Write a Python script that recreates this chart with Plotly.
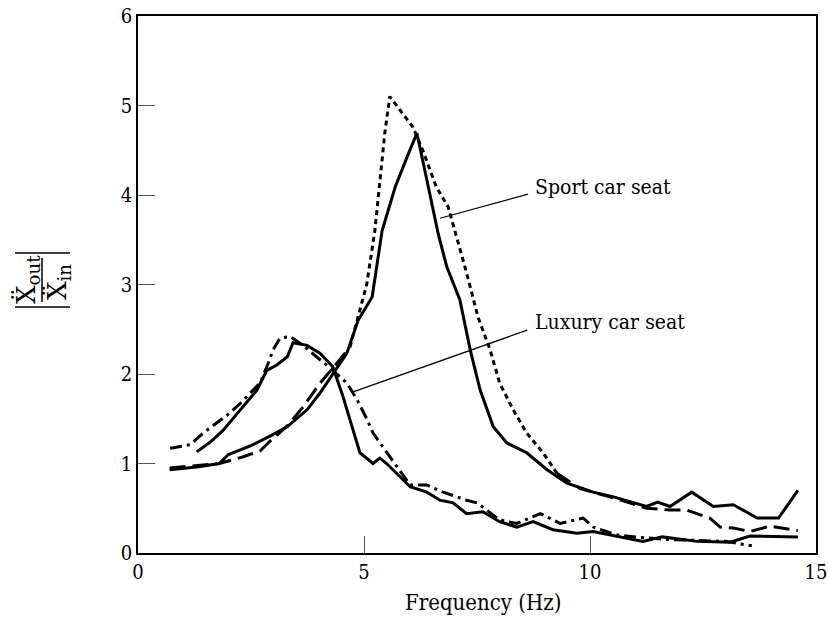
import plotly.graph_objects as go

# Transmissibility |X''out / X''in| of two car seats versus excitation frequency

# Sport car seat, measurement A (solid)
sport_a_freq = [0.7, 1.3, 1.8, 2.0, 2.5, 2.9, 3.3, 3.74, 4.03, 4.31, 4.62, 4.87, 5.18, 5.4,
                5.69, 5.95, 6.17, 6.39, 6.64, 6.83, 7.12, 7.35, 7.57, 7.86, 8.16, 8.6, 9.05,
                9.49, 10.07, 10.5, 11.25, 11.5, 11.77, 12.25, 12.73, 13.17, 13.7, 14.17, 14.6]
sport_a_gain = [0.93, 0.96, 1.0, 1.1, 1.2, 1.3, 1.41, 1.6, 1.79, 2.0, 2.23, 2.6, 2.86, 3.6,
                4.09, 4.42, 4.69, 4.17, 3.57, 3.2, 2.83, 2.27, 1.82, 1.41, 1.23, 1.12, 0.93,
                0.78, 0.68, 0.63, 0.52, 0.57, 0.52, 0.68, 0.52, 0.54, 0.39, 0.39, 0.7]

# Sport car seat, measurement B (dashed, dotted around the resonance)
sport_b_freq = [0.7, 1.2, 1.8, 2.3, 2.7, 2.9, 3.3, 3.65, 4.03, 4.4, 4.69, 4.85, 5.06, 5.24,
                5.35, 5.46, 5.57, 5.8, 6.08, 6.3, 6.6, 6.86, 7.05, 7.27, 7.52, 7.79, 8.0,
                8.3, 8.6, 8.96, 9.27, 9.78, 10.5, 11.25, 11.77, 12.14, 12.65, 12.88, 13.17,
                13.54, 13.98, 14.6]
sport_b_gain = [0.95, 0.97, 1.0, 1.07, 1.14, 1.24, 1.42, 1.63, 1.9, 2.12, 2.3, 2.6, 3.0, 3.6,
                4.17, 4.69, 5.1, 4.95, 4.76, 4.5, 4.09, 3.87, 3.53, 3.13, 2.64, 2.27, 1.9,
                1.6, 1.34, 1.12, 0.89, 0.72, 0.62, 0.5, 0.48, 0.48, 0.39, 0.29, 0.28,
                0.24, 0.3, 0.25]

# Luxury car seat, measurement A (solid)
luxury_a_freq = [1.3, 1.6, 1.88, 2.26, 2.63, 2.85, 3.07, 3.3, 3.43, 3.74, 4.03, 4.31, 4.54,
                 4.76, 4.91, 5.2, 5.35, 5.5, 6.02, 6.39, 6.68, 6.97, 7.27, 7.63, 8.0, 8.38,
                 8.74, 9.18, 9.71, 10.07, 10.5, 11.17, 11.6, 12.37, 13.1, 13.54, 14.6]
luxury_a_gain = [1.13, 1.24, 1.37, 1.6, 1.82, 2.04, 2.1, 2.19, 2.35, 2.32, 2.23, 2.08, 1.74,
                 1.37, 1.12, 1.0, 1.06, 1.0, 0.74, 0.68, 0.59, 0.56, 0.44, 0.46, 0.35, 0.29,
                 0.35, 0.26, 0.22, 0.24, 0.2, 0.13, 0.18, 0.13, 0.12, 0.19, 0.18]

# Luxury car seat, measurement B (dash-dot)
luxury_b_freq = [0.71, 1.15, 1.44, 1.97, 2.26, 2.7, 2.88, 2.99, 3.14, 3.36, 3.65, 3.96, 4.31,
                 4.62, 4.85, 5.07, 5.2, 5.58, 6.02, 6.39, 6.75, 7.27, 7.5, 8.0, 8.38, 8.9,
                 9.34, 9.85, 10.07, 10.6, 11.2, 11.8, 12.4, 13.0, 13.58]
luxury_b_gain = [1.17, 1.21, 1.34, 1.54, 1.67, 1.9, 2.12, 2.27, 2.4, 2.42, 2.32, 2.19, 2.04,
                 1.9, 1.71, 1.49, 1.34, 1.07, 0.76, 0.76, 0.68, 0.59, 0.56, 0.37, 0.33, 0.44,
                 0.33, 0.39, 0.29, 0.2, 0.17, 0.15, 0.14, 0.13, 0.08]

x_ticks = [0, 5, 10, 15]
y_ticks = [0, 1, 2, 3, 4, 5, 6]

FONT = "DejaVu Serif Condensed"
W, H = 828, 619
M_L, M_R, M_T, M_B = 138, 12, 16, 66
PW, PH = W - M_L - M_R, H - M_T - M_B


def px(x):
    return (x - M_L) / PW


def py(y):
    return (H - M_B - y) / PH


def segment(xs, ys, lo, hi):
    pts = [(a, b) for a, b in zip(xs, ys) if lo <= a <= hi]
    return [p[0] for p in pts], [p[1] for p in pts]


fig = go.Figure()

line_w = 3


def add(xs, ys, dash):
    fig.add_trace(go.Scatter(x=xs, y=ys, mode="lines", showlegend=False, hoverinfo="skip",
                             cliponaxis=False,
                             line=dict(color="black", width=line_w, dash=dash,
                                       shape="linear")))


add(sport_a_freq, sport_a_gain, "solid")
sx, sy = segment(sport_b_freq, sport_b_gain, 0, 4.69)
add(sx, sy, "16px,7px")
sx, sy = segment(sport_b_freq, sport_b_gain, 4.69, 9.27)
add(sx, sy, "5px,4px")
sx, sy = segment(sport_b_freq, sport_b_gain, 9.27, 15)
add(sx, sy, "16px,7px")
add(luxury_a_freq, luxury_a_gain, "solid")
add(luxury_b_freq, luxury_b_gain, "12px,5px,3px,5px")

shapes = []
annotations = []

# Leader lines for the seat labels
shapes.append(dict(type="line", xref="x", yref="y", x0=6.68, y0=3.74, x1=8.63, y1=4.01,
                   line=dict(color="black", width=1.2)))
shapes.append(dict(type="line", xref="x", yref="y", x0=4.76, y0=1.80, x1=8.61, y1=2.49,
                   line=dict(color="black", width=1.2)))
annotations.append(dict(x=8.74, y=4.09, xref="x", yref="y", text="Sport car seat",
                        showarrow=False, xanchor="left", yanchor="middle",
                        font=dict(family=FONT, size=21, color="black")))
annotations.append(dict(x=8.74, y=2.58, xref="x", yref="y", text="Luxury car seat",
                        showarrow=False, xanchor="left", yanchor="middle",
                        font=dict(family=FONT, size=21, color="black")))

# X axis title
annotations.append(dict(x=px(483), y=py(602), xref="paper", yref="paper",
                        text="Frequency (Hz)", showarrow=False, xanchor="center",
                        yanchor="middle", font=dict(family=FONT, size=22, color="black")))

# Y axis title: |X''out / X''in| drawn as a rotated fraction
annotations.append(dict(x=px(27), y=py(280), xref="paper", yref="paper",
                        text="X\u0308<sub>out</sub>", textangle=-90, showarrow=False,
                        xanchor="center", yanchor="middle",
                        font=dict(family="DejaVu Serif", size=26, color="black")))
annotations.append(dict(x=px(58), y=py(282), xref="paper", yref="paper",
                        text="X\u0308<sub>in</sub>", textangle=-90, showarrow=False,
                        xanchor="center", yanchor="middle",
                        font=dict(family="DejaVu Serif", size=26, color="black")))
for yy in (253, 307):
    shapes.append(dict(type="line", xref="paper", yref="paper", x0=px(15), x1=px(70),
                       y0=py(yy), y1=py(yy), line=dict(color="black", width=1.5)))
shapes.append(dict(type="line", xref="paper", yref="paper", x0=px(42), x1=px(42),
                   y0=py(258), y1=py(302), line=dict(color="black", width=1.5)))

fig.update_layout(
    width=W, height=H,
    margin=dict(l=M_L, r=M_R, t=M_T, b=M_B, autoexpand=False),
    paper_bgcolor="white", plot_bgcolor="white",
    font=dict(family=FONT, size=20, color="black"),
    shapes=shapes, annotations=annotations,
)
fig.update_xaxes(range=[0, 15], tickvals=x_ticks, ticks="inside", ticklen=17, tickwidth=1,
                 tickcolor="#555", showline=True, linecolor="black", linewidth=1.5,
                 mirror=True, showgrid=False, zeroline=False, automargin=False,
                 tickfont=dict(family=FONT, size=20))
fig.update_yaxes(range=[0, 6], tickvals=y_ticks, ticks="inside", ticklen=17, tickwidth=1,
                 tickcolor="#555", showline=True, linecolor="black", linewidth=1.5,
                 mirror=True, showgrid=False, zeroline=False, automargin=False,
                 tickfont=dict(family=FONT, size=20))

fig.write_html("out.html")
